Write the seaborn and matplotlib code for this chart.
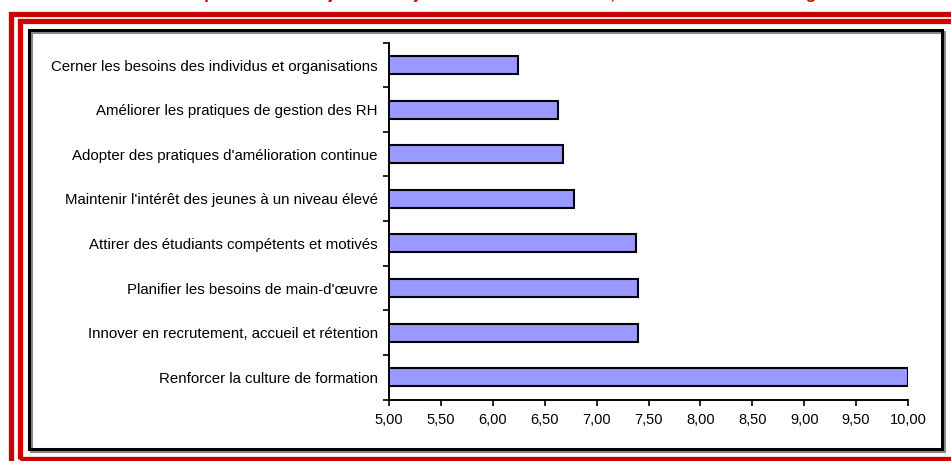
import numpy as np
import pandas as pd
import matplotlib
matplotlib.use('Agg')
import matplotlib.pyplot as plt
import seaborn as sns
from matplotlib.patches import Rectangle
from matplotlib.ticker import FuncFormatter, FixedLocator

# données
objectifs = [
    "Cerner les besoins des individus et organisations",
    "Améliorer les pratiques de gestion des RH",
    "Adopter des pratiques d'amélioration continue",
    "Maintenir l'intérêt des jeunes à un niveau élevé",
    "Attirer des étudiants compétents et motivés",
    "Planifier les besoins de main-d'œuvre",
    "Innover en recrutement, accueil et rétention",
    "Renforcer la culture de formation",
]
scores = [6.24, 6.63, 6.68, 6.78, 7.38, 7.40, 7.40, 10.00]
titre = "Répartition des objectifs des jeunes selon la demande, en fonction de leur catégorie"

df = pd.DataFrame({'objectif': objectifs, 'score': scores})

sns.set_style('white')
plt.rcParams['font.family'] = ['Liberation Sans', 'DejaVu Sans']

W, H = 951, 461
fig = plt.figure(figsize=(W / 100, H / 100), dpi=100)

def px(x, y):
    return x / W, 1 - y / H

# cadres rouges + cadre noir
red = '#CC0000'
fig.patches.append(Rectangle(px(10.5, 470), 1000 / W, (470 - 13.5) / H, transform=fig.transFigure,
                             fill=False, edgecolor=red, linewidth=3.8))
fig.patches.append(Rectangle(px(19.5, 458.5), 1000 / W, (458.5 - 21.5) / H, transform=fig.transFigure,
                             fill=False, edgecolor=red, linewidth=3.8))
fig.patches.append(Rectangle(px(30.5, 450.5), (943.5 - 30.5) / W, (450.5 - 32.5) / H, transform=fig.transFigure,
                             fill=False, edgecolor='#888888', linewidth=2.2))
fig.patches.append(Rectangle(px(28.5, 448.5), (941.5 - 28.5) / W, (448.5 - 30.5) / H, transform=fig.transFigure,
                             fill=False, edgecolor='black', linewidth=2.2))

# titre coupé en haut : seuls les jambages restent visibles
fig.text(515 / W, 1 + 1.5 / H, titre, color=red, fontsize=12, fontweight='bold',
         ha='center', va='baseline')

ax = fig.add_axes([389 / W, 1 - 399.5 / H, (908 - 389) / W, (399.5 - 42.7) / H])
sns.barplot(data=df, x='score', y='objectif', orient='h', color='#9999FF',
            edgecolor='black', linewidth=1.5, width=0.4, saturation=1, ax=ax)

ax.set_xlim(5, 10)
ax.set_xticks(np.arange(5, 10.01, 0.5))
ax.xaxis.set_major_formatter(FuncFormatter(lambda v, p: f"{v:.2f}".replace('.', ',')))
ax.set_xlabel('')
ax.set_ylabel('')
ax.set_ylim(len(objectifs) - 0.5, -0.5)
ax.yaxis.set_minor_locator(FixedLocator(np.arange(-0.5, len(objectifs), 1)))

for s in ['top', 'right']:
    ax.spines[s].set_visible(False)
for s in ['left', 'bottom']:
    ax.spines[s].set_color('black')
    ax.spines[s].set_linewidth(1.4)

ax.tick_params(axis='y', which='major', length=0, pad=8, labelsize=10.8, colors='black')
ax.tick_params(axis='y', which='minor', length=4, width=1.2, direction='out', left=True, color='black')
ax.tick_params(axis='x', which='major', length=4, width=1.2, direction='out', bottom=True,
               pad=6, labelsize=10.5, colors='black')

fig.savefig('out.png', dpi=100)
